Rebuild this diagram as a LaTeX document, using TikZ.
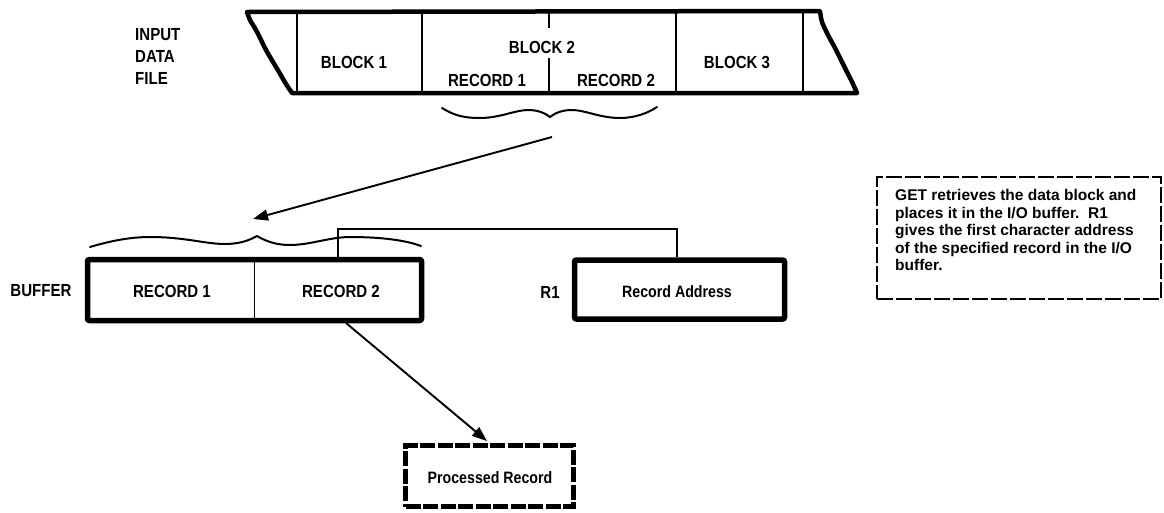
\documentclass[tikz,border=0pt]{standalone}
\usepackage{fontspec}
\setmainfont{Liberation Sans}[FakeStretch=0.86]
\newfontfamily\plainsans{Liberation Sans}
\usetikzlibrary{arrows.meta}
\tikzset{
  lbl/.style={font=\fontsize{17.5}{22}\selectfont\bfseries, inner sep=0pt},
  lbls/.style={font=\fontsize{16.5}{19}\selectfont\bfseries, inner sep=0pt},
  tapeline/.style={line width=4.5pt, line join=round, line cap=round},
  heavybox/.style={draw, line width=5.5pt, rounded corners=2pt, inner sep=0pt},
  procbox/.style={draw, line width=5.5pt, dash pattern=on 15pt off 2.5pt, inner sep=0pt},
  getbox/.style={draw, line width=2.4pt, dash pattern=on 16pt off 3pt, inner sep=0pt},
  thinline/.style={line width=1.4pt},
  bracepath/.style={line width=2pt, line cap=round},
  conn/.style={line width=1.9pt, -{Triangle[length=15pt,width=11pt]}},
}
\begin{document}
\begin{tikzpicture}[x=1pt,y=-1pt]
\useasboundingbox (0,0) rectangle (1164,512);
% input data file tape
\draw[tapeline] plot[smooth] coordinates {(292,93) (286,84) (279,72) (273,62) (266,50) (262,42) (256,30) (250,20) (247,12)}
  -- (820,11) -- plot[smooth] coordinates {(820,11) (822,22) (828,35) (835,48) (842,62) (848,74) (853,84) (857,93)} -- cycle;
\draw[thinline] (297,12) -- (297,93);
\draw[thinline] (422,12) -- (422,93);
\draw[thinline] (549,12) -- (549,28);
\draw[thinline] (549,58) -- (549,93);
\draw[thinline] (676,12) -- (676,93);
\draw[thinline] (803,12) -- (803,93);
\node[lbl, align=left, anchor=west] (inp) at (135,56) {INPUT\\DATA\\FILE};
\node[lbl] (b1) at (354,62) {BLOCK 1};
\node[lbl] (b2) at (542,47) {BLOCK 2};
\node[lbl] (t1) at (487,80) {RECORD 1};
\node[lbl] (t2) at (616,80) {RECORD 2};
\node[lbl] (b3) at (737,62) {BLOCK 3};
% brace under block 2
\draw[bracepath] (442,108) .. controls (455,116) and (465,118) .. (480,118) .. controls (500,118) and (515,110) .. (528,110) .. controls (538,110) and (545,113) .. (550,117) .. controls (555,113) and (562,110) .. (572,110) .. controls (585,110) and (600,118) .. (620,118) .. controls (635,118) and (648,113) .. (657,107);
\coordinate (tapeout) at (552,137);
\coordinate (bufin) at (253,219);
\draw[conn] (tapeout) -- (bufin);
% buffer
\node[heavybox, minimum width=334pt, minimum height=61pt] (buf) at (254.5,290) {};
\draw[thinline] (buf.north) -- (buf.south);
\node[lbl] (bufl) at (41,291) {BUFFER};
\node[lbl] (r1) at (172,291) {RECORD 1};
\node[lbl] (r2) at (341,291) {RECORD 2};
\draw[bracepath] (90,247) .. controls (110,241) and (130,237) .. (150,237) .. controls (185,237) and (205,244) .. (225,244) .. controls (240,244) and (250,240) .. (257,236) .. controls (264,240) and (274,245) .. (290,245) .. controls (310,245) and (330,237) .. (350,237) .. controls (380,237) and (405,240) .. (421,246);
% R1 register
\node[heavybox, minimum width=210pt, minimum height=59pt] (ra) at (679.5,289.5) {};
\node[lbls] (ratxt) at (677,292) {Record Address};
\node[lbl] (r1l) at (550,292) {R1};
\coordinate (bl) at (338,229);
\coordinate (br) at (677,229);
\draw[thinline] (buf.north -| bl) -- (bl) -- (br) -- (ra.north -| br);
% processed record
\node[procbox, minimum width=168pt, minimum height=61pt] (proc) at (489.5,476) {};
\node[lbls] (proctxt) at (490,478) {Processed Record};
\coordinate (bufout) at (346,323);
\coordinate (procin) at (487,441);
\draw[conn] (bufout) -- (procin);
% explanation
\node[getbox, minimum width=284pt, minimum height=122pt] (get) at (1019,238) {};
\node[anchor=north west, align=left, inner sep=0pt, font=\plainsans\fontsize{15.5}{17.6}\selectfont\bfseries] (gettxt) at (895,189)
 {GET retrieves the data block and\\places it in the I/O buffer.\ \ R1\\gives the first character address\\of the specified record in the I/O\\buffer.};
\end{tikzpicture}
\end{document}
